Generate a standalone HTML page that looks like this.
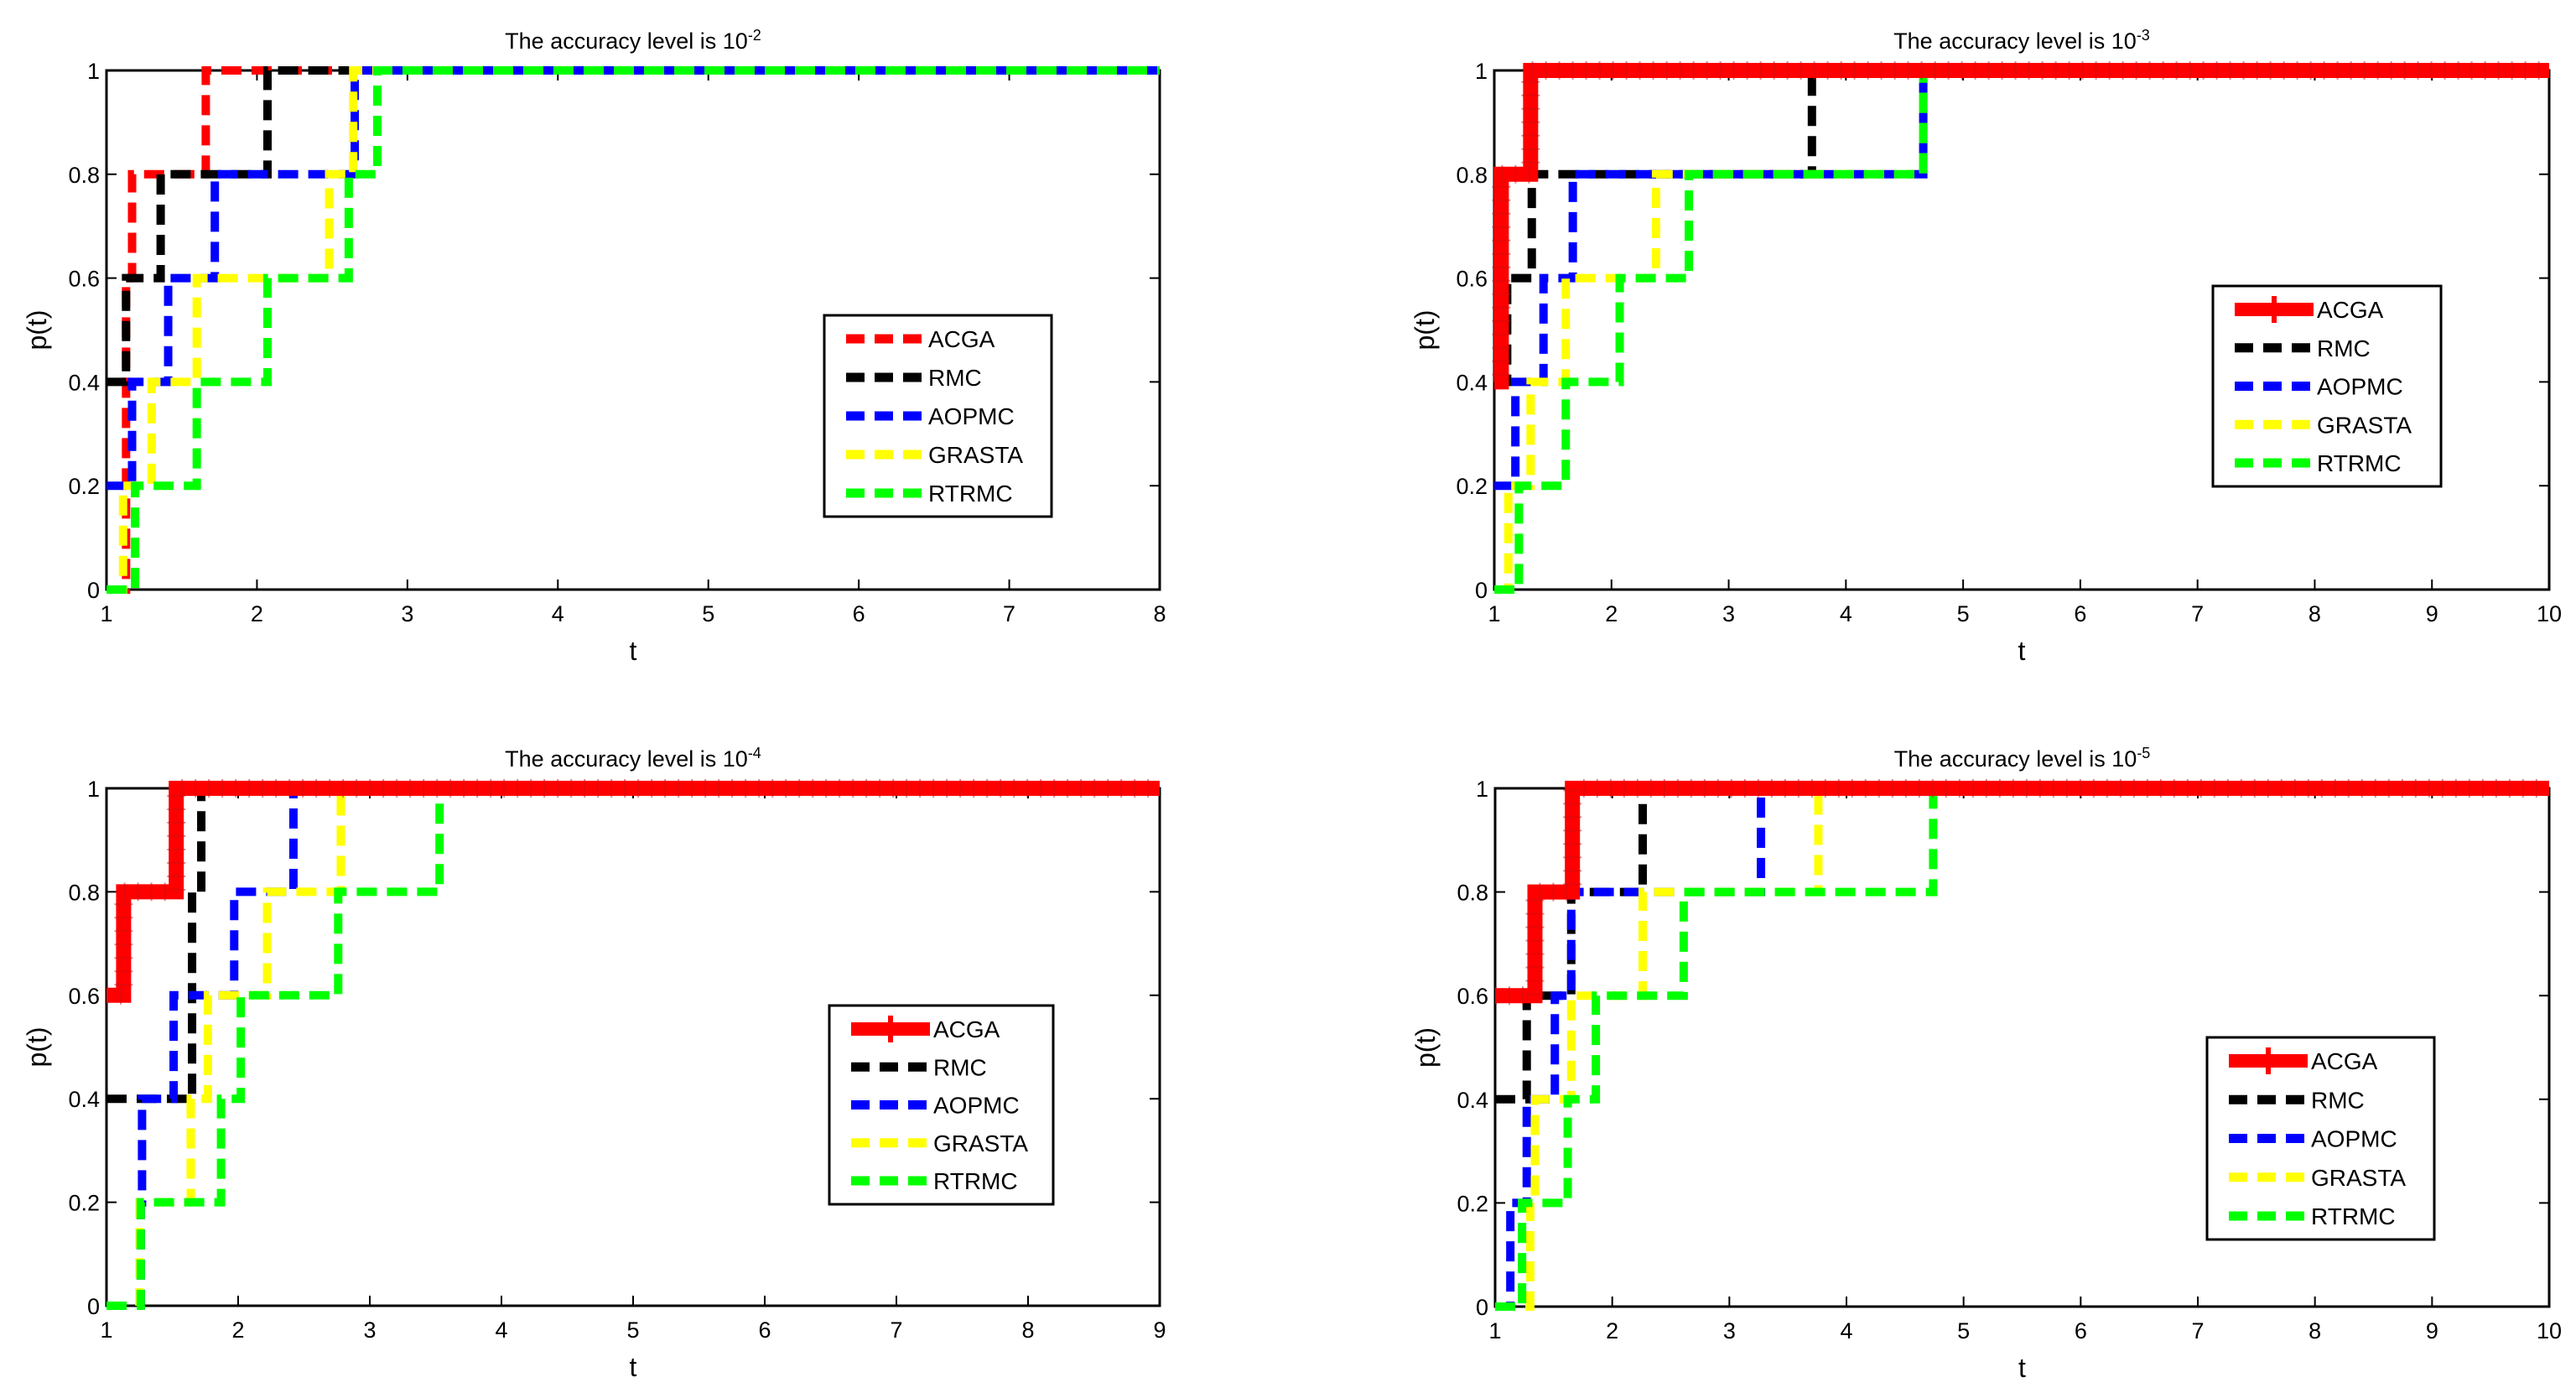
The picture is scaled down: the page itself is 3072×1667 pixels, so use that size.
<!DOCTYPE html>
<html><head><meta charset="utf-8">
<style>
html,body{margin:0;padding:0;background:#fff;}
svg{display:block;font-family:"Liberation Sans",sans-serif;}
</style></head>
<body>
<svg id="fig" width="3072" height="1667" viewBox="0 0 3072 1667" xmlns="http://www.w3.org/2000/svg"></svg>
<script>
// Series names
const seriesNames = ["ACGA","RMC","AOPMC","GRASTA","RTRMC"];
// Panel titles (exponent)
const panelExponents = ["-2","-3","-4","-5"];
const panelXMax = [8,10,9,10];
const yTicks = [0,0.2,0.4,0.6,0.8,1];
const yTickLabels = ["0","0.2","0.4","0.6","0.8","1"];
// Ratios t at which each solved-problem fraction is reached (5 problems)
const p1ACGA = [1.13,1.13,1.13,1.17,1.66];
const p1RMC = [1,1,1.13,1.36,2.07];
const p1AOPMC = [1,1.17,1.41,1.72,2.65];
const p1GRASTA = [1.11,1.3,1.6,2.48,2.64];
const p1RTRMC = [1.19,1.6,2.07,2.61,2.8];
const p2ACGA = [1,1,1.06,1.06,1.31];
const p2RMC = [1,1,1.11,1.32,3.71];
const p2AOPMC = [1,1.18,1.42,1.67,4.66];
const p2GRASTA = [1.12,1.31,1.61,2.38,4.66];
const p2RTRMC = [1.21,1.61,2.07,2.66,4.66];
const p3ACGA = [1,1,1,1.13,1.53];
const p3RMC = [1,1,1.65,1.65,1.72];
const p3AOPMC = [1.26,1.27,1.51,1.97,2.42];
const p3GRASTA = [1.25,1.64,1.77,2.22,2.78];
const p3RTRMC = [1.26,1.87,2.02,2.76,3.53];
const p4ACGA = [1,1,1,1.34,1.66];
const p4RMC = [1,1,1.27,1.65,2.26];
const p4AOPMC = [1.13,1.27,1.51,1.65,3.27];
const p4GRASTA = [1.3,1.34,1.65,2.26,3.76];
const p4RTRMC = [1.23,1.62,1.86,2.61,4.74];

const panelData = [
  [p1ACGA,p1RMC,p1AOPMC,p1GRASTA,p1RTRMC],
  [p2ACGA,p2RMC,p2AOPMC,p2GRASTA,p2RTRMC],
  [p3ACGA,p3RMC,p3AOPMC,p3GRASTA,p3RTRMC],
  [p4ACGA,p4RMC,p4AOPMC,p4GRASTA,p4RTRMC]
];
const colors = ["#ff0000","#000000","#0000ff","#ffff00","#00ff00"];
const ns = "http://www.w3.org/2000/svg";
const svg = document.getElementById('fig');
function mk(tag, attrs, parent){const e=document.createElementNS(ns,tag);for(const k in attrs)e.setAttribute(k,attrs[k]);(parent||svg).appendChild(e);return e;}

const panels = [
  {x:127,y:84,w:1256,h:619,leg:[983,376,271,240],solid:false},
  {x:1782,y:84,w:1258,h:619,leg:[2639,341,272,239],solid:true},
  {x:127,y:940,w:1256,h:617,leg:[989,1199,267,237],solid:true},
  {x:1783,y:940,w:1257,h:618,leg:[2632,1237,271,241],solid:true}
];

panels.forEach((P,pi)=>{
  const g = mk('g',{});
  
  
  const xmax = panelXMax[pi];
  const sx = t => P.x + (t-1)/(xmax-1)*P.w;
  const sy = v => P.y + P.h - v*P.h;
  const box = mk('rect',{x:P.x,y:P.y,width:P.w,height:P.h,fill:'#fff',stroke:'#000','stroke-width':3},g);
  
  
  for(let t=1;t<=xmax;t++){
    const X=sx(t);
    mk('line',{x1:X,y1:P.y+P.h,x2:X,y2:P.y+P.h-12,stroke:'#000','stroke-width':2},g);
    mk('line',{x1:X,y1:P.y,x2:X,y2:P.y+12,stroke:'#000','stroke-width':2},g);
    const lb=mk('text',{x:X,y:P.y+P.h+38,'font-size':27,'text-anchor':'middle',fill:'#000'},g);
    lb.textContent=String(t);
    
    
  }
  yTicks.forEach((v,i)=>{
    const Y=sy(v);
    mk('line',{x1:P.x,y1:Y,x2:P.x+12,y2:Y,stroke:'#000','stroke-width':2},g);
    mk('line',{x1:P.x+P.w,y1:Y,x2:P.x+P.w-12,y2:Y,stroke:'#000','stroke-width':2},g);
    const lb=mk('text',{x:P.x-8,y:Y+10,'font-size':27,'text-anchor':'end',fill:'#000'},g);
    lb.textContent=yTickLabels[i];
    
    
  });
  const order = P.solid ? [1,2,3,4,0] : [0,1,2,3,4];
  order.forEach(si=>{
    const r = panelData[pi][si];
    let cnt = r.filter(v=>v<=1).length;
    let d = 'M'+sx(1)+','+sy(cnt/5);
    r.forEach((v,k)=>{ if(v>1){ d+=' L'+sx(v)+','+sy(k/5)+' L'+sx(v)+','+sy((k+1)/5);} });
    d+=' L'+sx(xmax)+','+sy(1);
    const solid = P.solid && si===0;
    const path = mk('path',{d:d,fill:'none',stroke:colors[si],'stroke-width':solid?18:10,'stroke-dasharray':solid?'none':'24 12','stroke-linejoin':'miter'},g);
    
    
    if(solid){
      const mp = mk('path',{d:d,fill:'none',stroke:'#cc1010','stroke-width':22,'stroke-dasharray':'2 14',opacity:0.5},g);
      
      
    }
  });
  const tt = mk('text',{x:P.x+P.w/2,y:P.y-26,'font-size':27,'text-anchor':'middle',fill:'#000'},g);
  
  
  tt.textContent='The accuracy level is 10';
  const ts = mk('tspan',{dy:-10,'font-size':18},tt);
  ts.textContent=panelExponents[pi];
  const xl = mk('text',{x:P.x+P.w/2,y:P.y+P.h+84,'font-size':32,'text-anchor':'middle',fill:'#000'},g);
  xl.textContent='t';
  
  
  const yl = mk('text',{x:0,y:0,'font-size':32,'text-anchor':'middle',fill:'#000',transform:'translate('+(P.x-72)+','+(P.y+P.h/2)+') rotate(-90)'},g);
  yl.textContent='p(t)';
  
  
  const [lx,ly,lw,lh]=P.leg;
  const lg = mk('g',{},g);
  
  
  mk('rect',{x:lx,y:ly,width:lw,height:lh,fill:'#fff',stroke:'#000','stroke-width':3},lg);
  seriesNames.forEach((nm,si)=>{
    const Y = ly+28+si*(lh-56)/4;
    const solid = P.solid && si===0;
    const e = mk('g',{},lg);
    
    
    mk('line',{x1:lx+26,y1:Y,x2:lx+120,y2:Y,stroke:colors[si],'stroke-width':solid?16:11,'stroke-dasharray':solid?'none':'22 12'},e);
    if(solid) mk('line',{x1:lx+73,y1:Y-16,x2:lx+73,y2:Y+16,stroke:colors[si],'stroke-width':6},e);
    const tx = mk('text',{x:lx+124,y:Y+10,'font-size':28,fill:'#000'},e);
    tx.textContent=nm;
  });
});
</script>
</body></html>
